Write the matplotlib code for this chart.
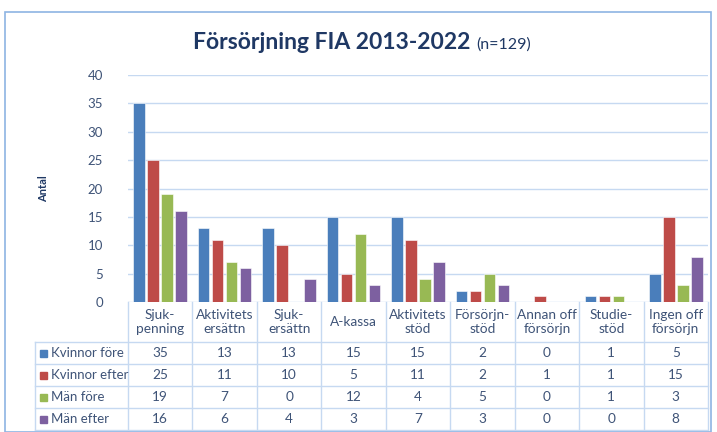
import matplotlib.pyplot as plt
from matplotlib.patches import Rectangle
import numpy as np

plt.rcParams['font.family'] = ['Lato', 'DejaVu Sans']

kategorier = ["Sjuk-\npenning", "Aktivitets\nersättn", "Sjuk-\nersättn", "A-kassa",
              "Aktivitets\nstöd", "Försörjn-\nstöd", "Annan off\nförsörjn", "Studie-\nstöd",
              "Ingen off\nförsörjn"]
serier = ["Kvinnor före", "Kvinnor efter", "Män före", "Män efter"]
kvinnor_fore = [35, 13, 13, 15, 15, 2, 0, 1, 5]
kvinnor_efter = [25, 11, 10, 5, 11, 2, 1, 1, 15]
man_fore = [19, 7, 0, 12, 4, 5, 0, 1, 3]
man_efter = [16, 6, 4, 3, 7, 3, 0, 0, 8]
varden = [kvinnor_fore, kvinnor_efter, man_fore, man_efter]
farger = ['#4a7ebb', '#be4b48', '#98b954', '#7d60a0']

W, H = 717, 432
fig = plt.figure(figsize=(W / 100, H / 100), dpi=100)

textfarg = '#3e5377'
linjefarg = '#c6d9f1'

# ram runt diagrammet
fig.patches.append(Rectangle((5 / W, 0), (711 - 5) / W, (H - 12) / H, transform=fig.transFigure,
                             fill=False, edgecolor='#8eb4e3', lw=1.2))

# stapeldiagram
ax = fig.add_axes([128 / W, (H - 302) / H, 580 / W, (302 - 75) / H])
x = np.arange(len(kategorier))
steg = 0.217
bredd = 0.18
for i, (namn, v, f) in enumerate(zip(serier, varden, farger)):
    ax.bar(x + (i - 1.5) * steg, v, width=bredd, color=f, edgecolor='white', lw=0.4, zorder=3)
ax.set_xlim(-0.5, 8.5)
ax.set_ylim(0, 40)
ax.set_yticks(range(0, 41, 5))
ax.set_xticks([])
ax.grid(axis='y', color=linjefarg, lw=1, zorder=0)
for s in ax.spines.values():
    s.set_visible(False)
ax.tick_params(axis='y', length=0, pad=18, labelsize=9.5, labelcolor=textfarg)
ax.set_ylabel("Antal", fontsize=8, fontweight='bold', color='#1f3864', labelpad=28)

# tabell under diagrammet
tx = fig.add_axes([35 / W, 2 / H, (708 - 35) / W, 128 / H])
vanster = -0.5 - (128 - 35) / (580 / 9)
tx.set_xlim(vanster, 8.5)
tx.set_ylim(430, 302)
tx.axis('off')

rader = [342, 364, 386, 408, 430]
for k in range(10):
    tx.plot([k - 0.5, k - 0.5], [302, 430], color=linjefarg, lw=1, clip_on=False)
tx.plot([vanster, vanster], [342, 430], color=linjefarg, lw=1, clip_on=False)
for y in rader:
    tx.plot([vanster, 8.5], [y, y], color=linjefarg, lw=1, clip_on=False)

for j, kat in enumerate(kategorier):
    tx.text(j, 322, kat, ha='center', va='center', fontsize=9.8, color=textfarg, linespacing=1.15)

for i, (namn, v, f) in enumerate(zip(serier, varden, farger)):
    yc = (rader[i] + rader[i + 1]) / 2
    tx.add_patch(Rectangle((vanster + 0.08, yc - 3.5), 0.11, 7, color=f, clip_on=False))
    tx.text(vanster + 0.25, yc, namn, ha='left', va='center', fontsize=9.5, color=textfarg)
    for j, val in enumerate(v):
        tx.text(j, yc, str(val), ha='center', va='center', fontsize=9.8, color=textfarg)

# titel
fig.text(470 / W, 1 - 49 / H, "Försörjning FIA 2013-2022", ha='right', va='baseline',
         fontsize=16.5, fontweight='bold', color='#1f3864')
fig.text(476 / W, 1 - 49 / H, "(n=129)", ha='left', va='baseline', fontsize=11.5, color='#1f3864')

fig.savefig('out.png', dpi=100)
